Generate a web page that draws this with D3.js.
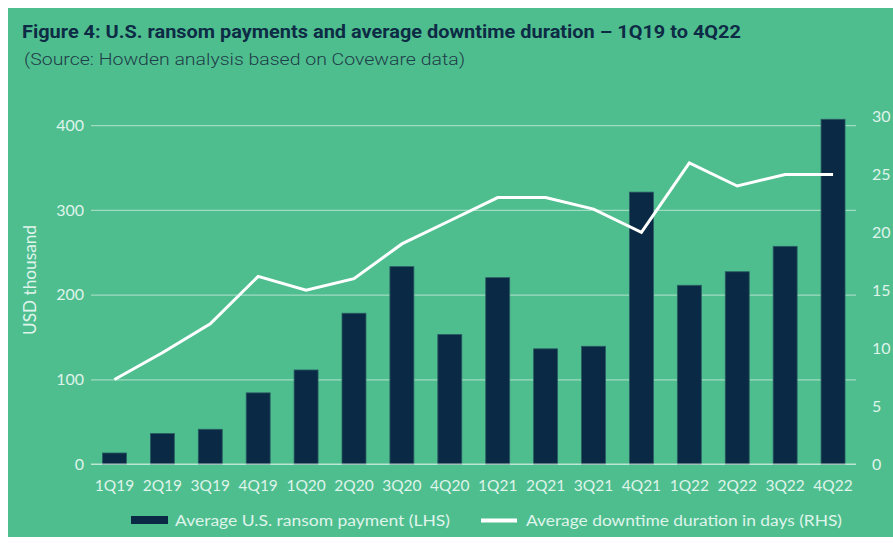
<!DOCTYPE html>
<html><head><meta charset="utf-8">
<script src="https://cdn.jsdelivr.net/npm/d3@7"></script>
<style>
html,body{margin:0;padding:0;background:#fff;}
svg{display:block;}
</style></head>
<body>
<script>
const categories = ["1Q19","2Q19","3Q19","4Q19","1Q20","2Q20","3Q20","4Q20","1Q21","2Q21","3Q21","4Q21","1Q22","2Q22","3Q22","4Q22"];
const ransomPayment = [13,36,41,84,111,178,233,153,220,136,139,321,211,227,257,407];
const downtimeDays = [7.3,9.6,12.1,16.2,15.0,16.0,19.0,21.0,23.0,23.0,22.0,20.0,26.0,24.0,25.0,25.0];
const leftTicks = [0,100,200,300,400];
const rightTicks = [0,5,10,15,20,25,30];
const title = "Figure 4: U.S. ransom payments and average downtime duration \u2013 1Q19 to 4Q22";
const subtitle = "(Source: Howden analysis based on Coveware data)";
const yAxisLabel = "USD thousand";
const legendLabels = ["Average U.S. ransom payment (LHS)", "Average downtime duration in days (RHS)"];

const W = 893, H = 543;
const bg = "#4fbe8f", navy = "#0a2944", light = "#dff4ea";
const font = "Lato, 'Open Sans', sans-serif";

const svg = d3.select("body").append("svg").attr("width", W).attr("height", H);
svg.append("rect").attr("x",0).attr("y",0).attr("width",W).attr("height",H).attr("fill","#fff");
svg.append("rect").attr("x",8).attr("y",8).attr("width",W-8).attr("height",529).attr("fill",bg);

// titles
svg.append("text").attr("x",22).attr("y",38).text(title)
  .attr("font-family","Roboto, sans-serif").attr("font-weight",700).attr("font-size",18)
  .attr("fill","#0d2b45").attr("textLength",719).attr("lengthAdjust","spacingAndGlyphs");
svg.append("text").attr("x",24).attr("y",65).text(subtitle)
  .attr("font-family","Roboto, sans-serif").attr("font-weight",300).attr("font-size",17)
  .attr("fill","#1e3d48").attr("textLength",441).attr("lengthAdjust","spacingAndGlyphs");

const x = d3.scaleBand().domain(categories).range([90.5, 857]).paddingInner(0.5).paddingOuter(0.25);
const y = d3.scaleLinear().domain([0,400]).range([464,125.2]);
const y2 = d3.scaleLinear().domain([0,30]).range([464,116.5]);

// gridlines + left axis
const gridG = svg.append("g")
  .call(d3.axisLeft(y).tickValues(leftTicks).tickSize(-(856-91)).tickFormat(d3.format("d")).tickPadding(7))
  .attr("transform","translate(91,0)");
gridG.select(".domain").remove();
gridG.selectAll(".tick line").attr("stroke","rgba(255,255,255,0.45)").attr("stroke-width",1.2);
gridG.selectAll(".tick text").attr("font-family",font).attr("font-size",16).attr("fill",light).attr("font-weight",400);

// bars
svg.append("g").selectAll("rect").data(categories).join("rect")
  .attr("x", d => x(d)).attr("width", x.bandwidth())
  .attr("y", (d,i) => y(ransomPayment[i])).attr("height", (d,i) => y(0) - y(ransomPayment[i]))
  .attr("fill", navy).attr("stroke","#2a5c63").attr("stroke-width",0.8);

// baseline
svg.append("line").attr("x1",91).attr("x2",856).attr("y1",y(0)).attr("y2",y(0))
  .attr("stroke","rgba(255,255,255,0.6)").attr("stroke-width",1.2);

// line
const line = d3.line().x((d,i) => x(categories[i]) + x.bandwidth()/2).y(d => y2(d));
svg.append("path").datum(downtimeDays).attr("d", line)
  .attr("fill","none").attr("stroke","#fff").attr("stroke-width",3).attr("stroke-linejoin","miter");

// x axis labels
const xAxis = svg.append("g").attr("transform",`translate(0,${y(0)})`)
  .call(d3.axisBottom(x).tickSize(0).tickPadding(16));
xAxis.select(".domain").remove();
xAxis.selectAll(".tick text").attr("font-family",font).attr("font-size",15.5).attr("fill",light);

// right axis
const rAxis = svg.append("g").attr("transform","translate(866,0)")
  .call(d3.axisRight(y2).tickValues(rightTicks).tickSize(0).tickPadding(6));
rAxis.select(".domain").remove();
rAxis.selectAll(".tick text").attr("font-family",font).attr("font-size",16).attr("fill",light);

// y axis label
svg.append("text").attr("transform","translate(35.5,280) rotate(-90)").attr("text-anchor","middle")
  .text(yAxisLabel).attr("font-family",font).attr("font-size",16.5).attr("fill",light)
  .attr("textLength",110).attr("lengthAdjust","spacingAndGlyphs");

// legend
svg.append("rect").attr("x",131).attr("y",516).attr("width",37).attr("height",8).attr("fill",navy);
svg.append("text").attr("x",175).attr("y",526).text(legendLabels[0])
  .attr("font-family",font).attr("font-size",15.5).attr("fill",light)
  .attr("textLength",275).attr("lengthAdjust","spacingAndGlyphs");
svg.append("line").attr("x1",481).attr("x2",517).attr("y1",520.5).attr("y2",520.5).attr("stroke","#fff").attr("stroke-width",4);
svg.append("text").attr("x",526).attr("y",526).text(legendLabels[1])
  .attr("font-family",font).attr("font-size",15.5).attr("fill",light)
  .attr("textLength",316).attr("lengthAdjust","spacingAndGlyphs");
</script>
</body></html>
